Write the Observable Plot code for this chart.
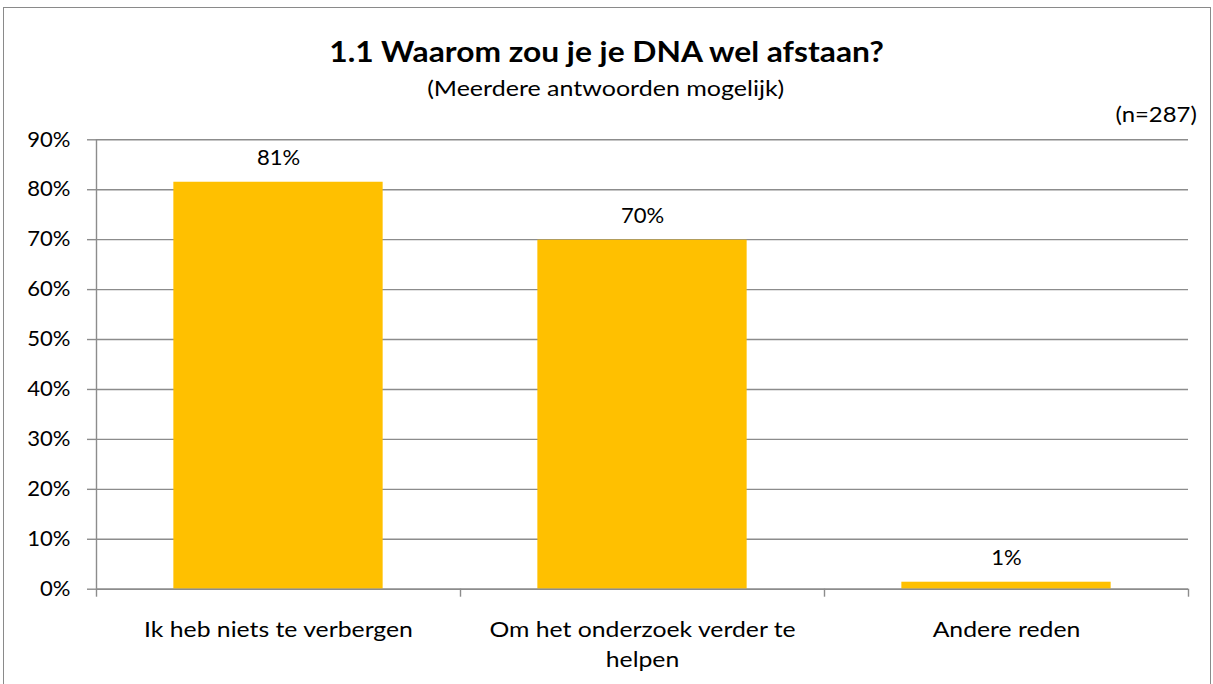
<!DOCTYPE html>
<html>
<head>
<meta charset="utf-8">
<script src="https://cdn.jsdelivr.net/npm/d3@7"></script>
<script src="https://cdn.jsdelivr.net/npm/@observablehq/plot@0.6"></script>
<style>
  html, body { margin: 0; padding: 0; background: #fff; }
  body { width: 1213px; height: 684px; overflow: hidden; position: relative; font-family: Lato, sans-serif; }
  #frame { position: absolute; left: 3px; top: 7px; width: 1208px; height: 690px; border: 1.5px solid #8a8a8a; box-sizing: border-box; }
  .txt { position: absolute; color: #000; white-space: nowrap; line-height: normal; }
  #title { left: 0; width: 1213px; text-align: center; top: 33px; font-size: 29px; font-weight: bold; transform: scaleX(1.095); transform-origin: 606.5px 50%; }
  #subtitle { left: 0; width: 1213px; text-align: center; top: 76px; font-size: 20.5px; transform: scaleX(1.22); transform-origin: 610px 50%; }
  #n { right: 16px; top: 102px; font-size: 20.5px; transform: scaleX(1.165); transform-origin: 100% 50%; }
  #chart { position: absolute; left: 0; top: 0; }
</style>
</head>
<body>
<div id="frame"></div>
<div class="txt" id="title"></div>
<div class="txt" id="subtitle"></div>
<div class="txt" id="n"></div>
<div id="chart"></div>
<script>
// ---- data ----
const titleText = "1.1 Waarom zou je je DNA wel afstaan?";
const subtitleText = "(Meerdere antwoorden mogelijk)";
const sampleText = "(n=287)";
const categories = ["Ik heb niets te verbergen", "Om het onderzoek verder te helpen", "Andere reden"];
const categoryLabels = ["Ik heb niets te verbergen", "Om het onderzoek verder te\nhelpen", "Andere reden"];
const values = [0.815, 0.699, 0.014];
const valueLabels = ["81%", "70%", "1%"];
const yTicks = [0, 0.1, 0.2, 0.3, 0.4, 0.5, 0.6, 0.7, 0.8, 0.9];
const yTickLabels = ["0%", "10%", "20%", "30%", "40%", "50%", "60%", "70%", "80%", "90%"];

document.getElementById("title").textContent = titleText;
document.getElementById("subtitle").textContent = subtitleText;
document.getElementById("n").textContent = sampleText;

const data = categories.map((c, i) => ({
  category: c, index: i, label: categoryLabels[i], value: values[i], valueLabel: valueLabels[i]
}));
const boundaries = d3.range(categories.length + 1);
const barPad = 0.2125;
const gridColor = "#8c8c8c";
const fs = 21;

// horizontally widen text glyphs (reference text is wide-set)
const stretch = s => (index, scales, values, dims, ctx, next) => {
  const g = next(index, scales, values, dims, ctx);
  d3.select(g).selectAll("text").each(function () {
    const t = this.getAttribute("transform") || "";
    this.setAttribute("transform", t + ` scale(${s},1)`);
  });
  return g;
};

const chart = Plot.plot({
  width: 1213,
  height: 684,
  marginLeft: 96,
  marginRight: 25,
  marginTop: 139.3,
  marginBottom: 95.3,
  style: { fontFamily: "Lato, sans-serif", background: "transparent", color: "#000" },
  x: { type: "linear", domain: [0, categories.length], axis: null },
  y: { domain: [0, 0.9], axis: null },
  marks: [
    // gridlines
    Plot.ruleY(yTicks, { y: d => d, x1: 0, x2: categories.length, stroke: gridColor, strokeWidth: 1.4 }),
    // y ticks left of the axis
    Plot.tickY(yTicks, { y: d => d, stroke: gridColor, strokeWidth: 1.4, render: (index, scales, values, dims, ctx, next) => {
      const g = next(index, scales, values, dims, ctx);
      d3.select(g).selectAll("line").attr("x1", dims.marginLeft - 9).attr("x2", dims.marginLeft);
      return g;
    }}),
    Plot.text(yTicks, { y: d => d, frameAnchor: "left", text: (d, i) => yTickLabels[i], textAnchor: "end", dx: -26, fontSize: fs, fill: "#000", render: stretch(1.05) }),
    // bars
    Plot.rectY(data, { x1: d => d.index + barPad, x2: d => d.index + 1 - barPad, y1: 0, y2: "value", fill: "#FFC000" }),
    // y axis line
    Plot.ruleX([0], { stroke: gridColor, strokeWidth: 1.4 }),
    // x axis line
    Plot.ruleY([0], { stroke: gridColor, strokeWidth: 1.6 }),
    // category boundary ticks
    Plot.ruleX(boundaries, { x: d => d, y1: 0, y2: 0, stroke: gridColor, strokeWidth: 1.4, render: (index, scales, values, dims, ctx, next) => {
      const g = next(index, scales, values, dims, ctx);
      d3.select(g).selectAll("line").attr("y1", dims.height - dims.marginBottom).attr("y2", dims.height - dims.marginBottom + 8);
      return g;
    }}),
    // value labels
    Plot.text(data, { x: d => d.index + 0.5, y: "value", text: "valueLabel", dy: -24, fontSize: fs, fill: "#000", render: stretch(1.05) }),
    // category labels
    Plot.text(data, { x: d => d.index + 0.5, y: () => 0, text: "label", lineAnchor: "top", dy: 26, lineHeight: 1.43, fontSize: fs, fill: "#000", render: stretch(1.18) })
  ]
});
document.getElementById("chart").appendChild(chart);
</script>
</body>
</html>
